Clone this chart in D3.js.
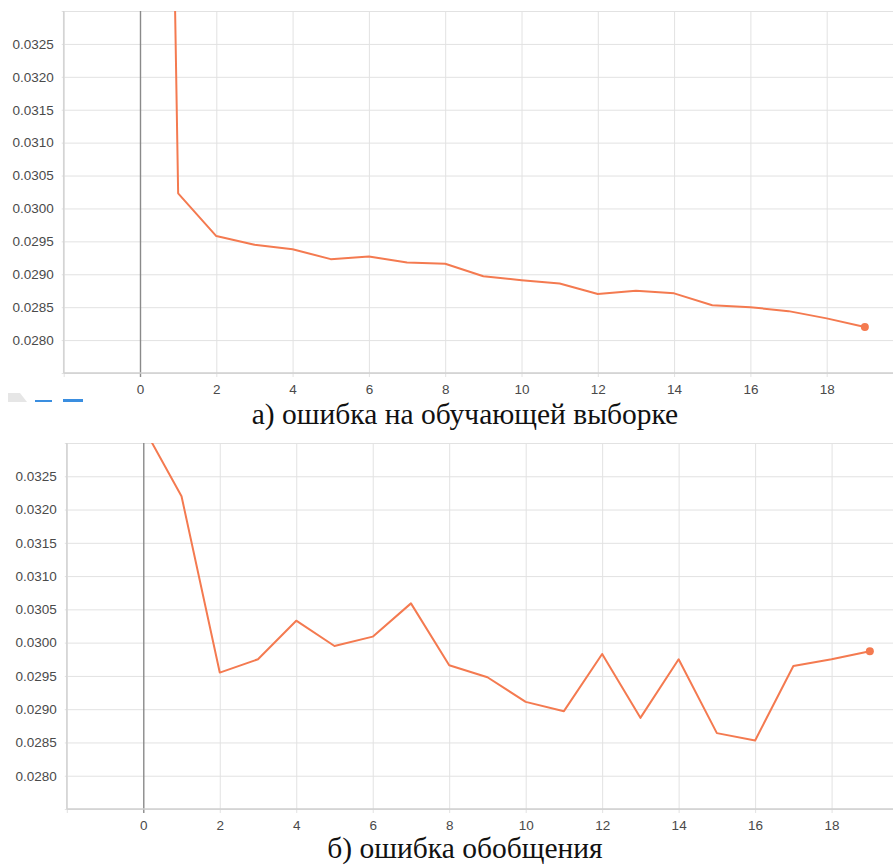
<!DOCTYPE html>
<html>
<head>
<meta charset="utf-8">
<script src="https://cdn.jsdelivr.net/npm/d3@7"></script>
<style>
  body { margin: 0; background: #fff; }
  svg { display: block; }
</style>
</head>
<body>
<div id="chart"></div>
<script>
var canvasWidth = 893;
var canvasHeight = 865;

// epochs and loss values
var epochs = [0, 1, 2, 3, 4, 5, 6, 7, 8, 9, 10, 11, 12, 13, 14, 15, 16, 17, 18, 19];
var trainLoss = [0.0650, 0.03023, 0.02958, 0.02945, 0.02938, 0.02923, 0.02927, 0.02918, 0.02916, 0.02897,
                 0.02891, 0.02886, 0.02870, 0.02875, 0.02871, 0.02853, 0.02850, 0.02844, 0.02833, 0.02820];
var validLoss = [0.03324, 0.03220, 0.02955, 0.02975, 0.03033, 0.02995, 0.03009, 0.03059, 0.02966, 0.02948,
                 0.02911, 0.02897, 0.02983, 0.02887, 0.02975, 0.02864, 0.02853, 0.02965, 0.02975, 0.02987];
var xTicks = [-2, 0, 2, 4, 6, 8, 10, 12, 14, 16, 18, 20];
var yTicks = [0.0275, 0.0280, 0.0285, 0.0290, 0.0295, 0.0300, 0.0305, 0.0310, 0.0315, 0.0320, 0.0325, 0.0330];
var captions = ["а) ошибка на обучающей выборке", "б) ошибка обобщения"];

var svg = d3.select("#chart").append("svg")
    .attr("width", canvasWidth)
    .attr("height", canvasHeight);

var lineColor = "#f47a50";
var tickFont = "'Liberation Sans'";

function drawPanel(id, values, left, top, bottom, unit, caption, captionY) {
    var xScale = d3.scaleLinear().domain([-2, 20]).range([left, left + 22 * unit]);
    var yScale = d3.scaleLinear().domain([0.0275, 0.0330]).range([bottom, top]);

    var g = svg.append("g");

    g.append("clipPath").attr("id", "clip" + id)
        .append("rect")
        .attr("x", left).attr("y", top)
        .attr("width", canvasWidth - left).attr("height", bottom - top);

    // horizontal grid + labels
    var yAxis = g.append("g")
        .attr("transform", "translate(" + left + ",0)")
        .call(d3.axisLeft(yScale).tickValues(yTicks)
            .tickSize(-(canvasWidth - left)).tickSizeOuter(0).tickPadding(10)
            .tickFormat(function(d) {
                return (d > 0.0276 && d < 0.0329) ? d3.format(".4f")(d) : "";
            }));
    yAxis.select(".domain").remove();
    yAxis.selectAll("line").attr("stroke", "#e2e2e2").attr("x1", -2);
    yAxis.selectAll("text")
        .attr("fill", "#4a4a4a")
        .style("font-family", tickFont)
        .style("font-size", "13.5px");

    // vertical grid + labels
    var xAxis = g.append("g")
        .attr("transform", "translate(0," + bottom + ")")
        .call(d3.axisBottom(xScale).tickValues(xTicks)
            .tickSize(-(bottom - top)).tickSizeOuter(0).tickPadding(11)
            .tickFormat(function(d) { return d >= 0 && d <= 18 ? d : ""; }));
    xAxis.select(".domain").remove();
    xAxis.selectAll("line")
        .attr("stroke", function(d) { return d === 0 ? "#8a8a8a" : "#e2e2e2"; })
        .attr("stroke-width", function(d) { return d === 0 ? 1.4 : 1; })
        .attr("y1", 4);
    xAxis.selectAll("text")
        .attr("fill", "#4a4a4a")
        .style("font-family", tickFont)
        .style("font-size", "13.5px");

    // axis lines
    g.append("line")
        .attr("x1", left).attr("x2", canvasWidth)
        .attr("y1", bottom).attr("y2", bottom)
        .attr("stroke", "#cfcfcf").attr("stroke-width", 1.5);
    g.append("line")
        .attr("x1", left).attr("x2", left)
        .attr("y1", top).attr("y2", bottom)
        .attr("stroke", "#d4d4d4").attr("stroke-width", 1.5);

    var line = d3.line()
        .x(function(d, i) { return xScale(epochs[i]); })
        .y(function(d) { return yScale(d); });

    g.append("path")
        .datum(values)
        .attr("clip-path", "url(#clip" + id + ")")
        .attr("fill", "none")
        .attr("stroke", lineColor)
        .attr("stroke-width", 2)
        .attr("stroke-linejoin", "round")
        .attr("d", line);

    g.append("circle")
        .attr("cx", xScale(epochs[epochs.length - 1]))
        .attr("cy", yScale(values[values.length - 1]))
        .attr("r", 4)
        .attr("fill", lineColor);

    svg.append("text")
        .attr("x", 465)
        .attr("y", captionY)
        .attr("text-anchor", "middle")
        .style("font-family", "'Liberation Serif'")
        .style("font-size", "29.5px")
        .style("fill", "#111")
        .text(caption);
}

drawPanel(1, trainLoss, 63.7, 11, 373, 38.15, captions[0], 424);
drawPanel(2, validLoss, 66.8, 443, 809, 38.24, captions[1], 858);

// leftover toolbar bits under the first panel
svg.append("path")
    .attr("d", "M8,393 L20,393 L27,402 L8,402 Z")
    .attr("fill", "#e6e6e6");
svg.append("rect").attr("x", 35).attr("y", 400).attr("width", 17).attr("height", 2).attr("fill", "#3a8ee0");
svg.append("rect").attr("x", 63).attr("y", 399).attr("width", 20).attr("height", 3).attr("fill", "#3a8ee0");
</script>
</body>
</html>
